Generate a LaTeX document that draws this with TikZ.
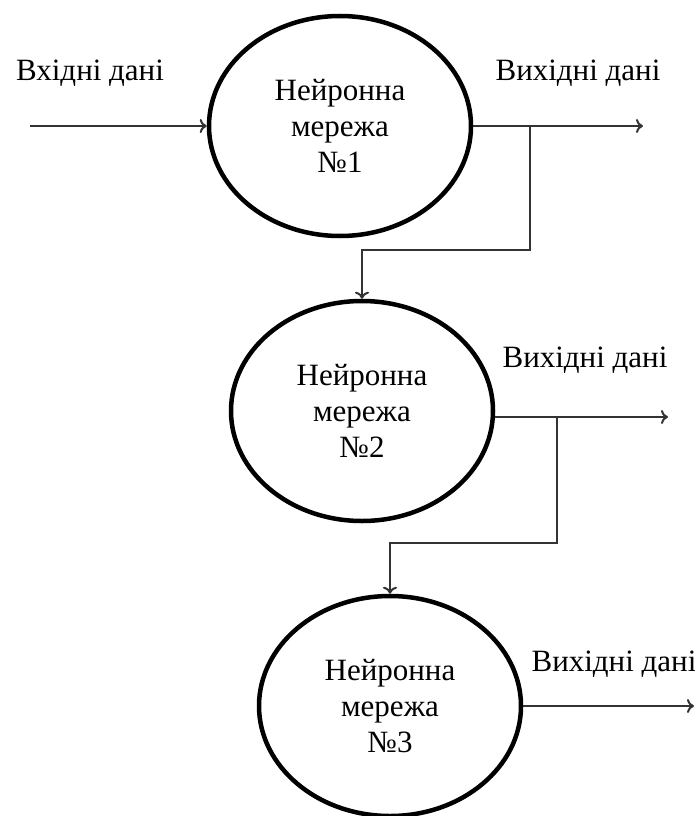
\documentclass[tikz,border=0pt]{standalone}
\usepackage{fontspec}
\setmainfont{Liberation Serif}
\usetikzlibrary{shapes.geometric,arrows.meta}
\begin{document}
\begin{tikzpicture}[x=1pt,y=-1pt,
  net/.style={draw=black,line width=4.5pt,ellipse,minimum width=262pt,minimum height=220pt,inner sep=0pt,align=center,font=\fontsize{31}{36}\selectfont},
  lbl/.style={font=\fontsize{31}{36}\selectfont,inner sep=0pt,anchor=base},
  link/.style={draw=black!80,line width=2pt},
  arr/.style={link,-{To[length=7pt,width=14pt]}}]
\useasboundingbox (0,0) rectangle (695,816);
\node[net] (n1) at (340,126) {Нейронна\\мережа\\№1};
\node[net] (n2) at (362,411) {Нейронна\\мережа\\№2};
\node[net] (n3) at (390,706) {Нейронна\\мережа\\№3};
\coordinate (in) at (30,126);
\coordinate (o1) at (643,126);
\coordinate (o2) at (668,417);
\coordinate (o3) at (694,706);
\coordinate (b1) at (530,126);
\coordinate (b2) at (557,417);
\coordinate (k1) at (0,250);
\coordinate (k2) at (0,543);
\node[lbl] (t0) at (90,80) {Вхідні дані};
\node[lbl] (t1) at (578,80) {Вихідні дані};
\node[lbl] (t2) at (585,367) {Вихідні дані};
\node[lbl] (t3) at (614,671) {Вихідні дані};
\draw[arr] (in) -- (n1.west);
\draw[arr] (n1.east) -- (o1);
\draw[arr] (b1) |- (n2.north |- k1) -- (n2.north);
\draw[arr] (n2.east |- b2) -- (o2);
\draw[arr] (b2) |- (n3.north |- k2) -- (n3.north);
\draw[arr] (n3.east) -- (o3);
\end{tikzpicture}
\end{document}
